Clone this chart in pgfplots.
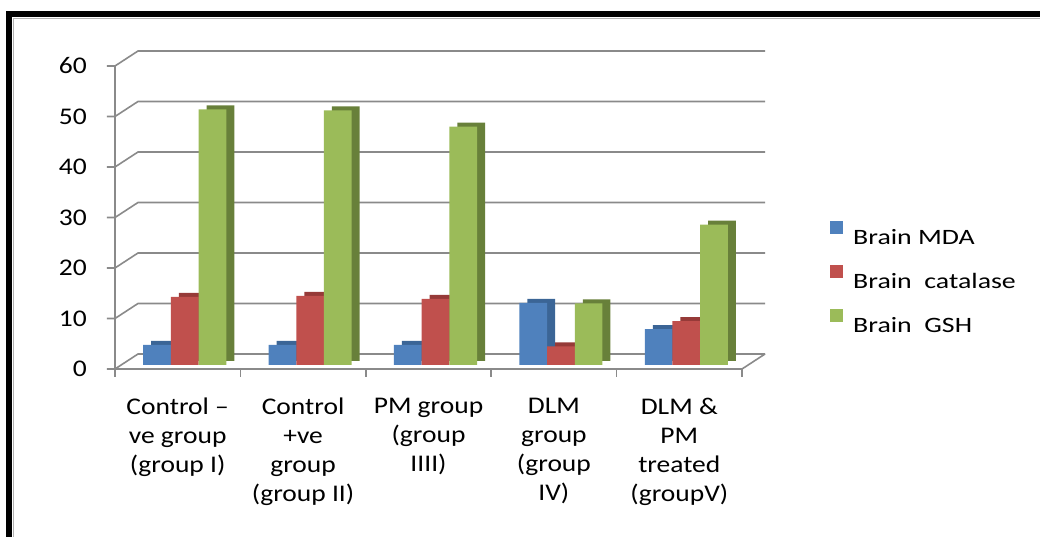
\documentclass[border=0pt]{standalone}
\usepackage{fontspec}
\setmainfont{Carlito}[FakeStretch=1.15]
\newfontfamily\legfont{Carlito}[FakeStretch=1.27]
\usepackage{pgfplots}
\usepackage{pgfplotstable}
\pgfplotsset{compat=1.18}

\definecolor{mda}{HTML}{4F81BD}
\definecolor{mdadark}{HTML}{3B6596}
\definecolor{cat}{HTML}{C0504D}
\definecolor{catdark}{HTML}{963A38}
\definecolor{gsh}{HTML}{9BBB59}
\definecolor{gshdark}{HTML}{68803A}
\definecolor{gridc}{HTML}{8A8A8A}

% group  MDA  catalase  GSH
\pgfplotstableread{
grp mda cat gsh
0 4.0 13.5 50.6
1 4.0 13.7 50.4
2 4.0 13.1 47.2
3 12.3 3.7 12.2
4 7.1 8.7 27.8
}\brain

\begin{document}
\begin{tikzpicture}[x=1bp,y=1bp, gl/.style={draw=gridc, line width=1.6bp}]
\begin{axis}[
  name=ax,
  scale only axis, width=627bp, height=303bp,
  xmin=-0.5, xmax=4.5, ymin=0, ymax=60,
  clip=false,
  axis line style={draw=none},
  major tick length=0pt,
  ytick={0,10,...,60},
  xtick={0,...,4},
  xticklabels={{Control --\\ve group\\(group I)},
               {Control\\+ve\\group\\(group II)},
               {PM group\\(group\\IIII)},
               {DLM\\group\\(group\\IV)},
               {DLM \&\\PM\\treated\\(groupV)}},
  /pgf/number format/assume math mode=true,
  yticklabel style={font=\fontsize{24}{29}\selectfont, anchor=east, inner sep=0pt, xshift=-28bp},
  xticklabel style={font=\fontsize{24}{29}\selectfont, align=center, anchor=north, inner sep=0pt, yshift=-29bp},
  leg/.style={legend image code/.code={\fill[#1] (0bp,0.5bp) rectangle (13bp,13.5bp);}},
  legend style={at={(1.1404,0.297)}, anchor=west, draw=none, fill=none,
    inner sep=0pt, row sep=16bp, column sep=10bp,
    nodes={inner sep=0pt, text height=16bp, text depth=5bp},
    font=\legfont\fontsize{22}{26}\selectfont},
  legend cell align=left,
]
% walls and floor
\pgfplotsinvokeforeach{0,10,...,60}{
  \draw[gl] ([xshift=-8bp]axis cs:-0.5,#1) -- (axis cs:-0.5,#1)
    -- ([shift={(23bp,15bp)}]axis cs:-0.5,#1) -- ([shift={(23bp,15bp)}]axis cs:4.5,#1);
}
\draw[gl] (axis cs:-0.5,0) -- (axis cs:-0.5,60);
\draw[gl] (axis cs:-0.5,0) -- (axis cs:4.5,0) -- ([shift={(23bp,15bp)}]axis cs:4.5,0);
\pgfplotsinvokeforeach{-0.5,0.5,...,4.5}{
  \draw[gl] (axis cs:#1,0) -- ++(0bp,-8bp);
}

% bars: darker shifted copy first gives the depth
\addplot[ybar, bar width=27.7bp, bar shift=-27.7bp, fill=mdadark, draw=none, xshift=15bp, yshift=8bp, forget plot] table[x=grp,y=mda]{\brain};
\addplot[ybar, bar width=27.7bp, bar shift=-27.7bp, fill=mda, draw=none, xshift=7bp, yshift=4bp, leg=mda] table[x=grp,y=mda]{\brain};
\addlegendentry{Brain MDA}
\addplot[ybar, bar width=27.7bp, bar shift=0bp, fill=catdark, draw=none, xshift=15bp, yshift=8bp, forget plot] table[x=grp,y=cat]{\brain};
\addplot[ybar, bar width=27.7bp, bar shift=0bp, fill=cat, draw=none, xshift=7bp, yshift=4bp, leg=cat] table[x=grp,y=cat]{\brain};
\addlegendentry{Brain\ \ catalase}
\addplot[ybar, bar width=27.7bp, bar shift=27.7bp, fill=gshdark, draw=none, xshift=15bp, yshift=8bp, forget plot] table[x=grp,y=gsh]{\brain};
\addplot[ybar, bar width=27.7bp, bar shift=27.7bp, fill=gsh, draw=none, xshift=7bp, yshift=4bp, leg=gsh] table[x=grp,y=gsh]{\brain};
\addlegendentry{Brain\ \ GSH}
\end{axis}
\path (ax.south west) ++(-115bp,-168bp) coordinate (O);
\pgfresetboundingbox
\begin{scope}[shift={(O)}]
\path[use as bounding box] (0,0) rectangle (1040,537);
\fill[black] (6,520) rectangle (1040,526);
\fill[black] (6,0) rectangle (12,526);
\draw[black!30, line width=1bp] (13.5,0) -- (13.5,518.5) -- (1040,518.5);
\end{scope}
\end{tikzpicture}
\end{document}
